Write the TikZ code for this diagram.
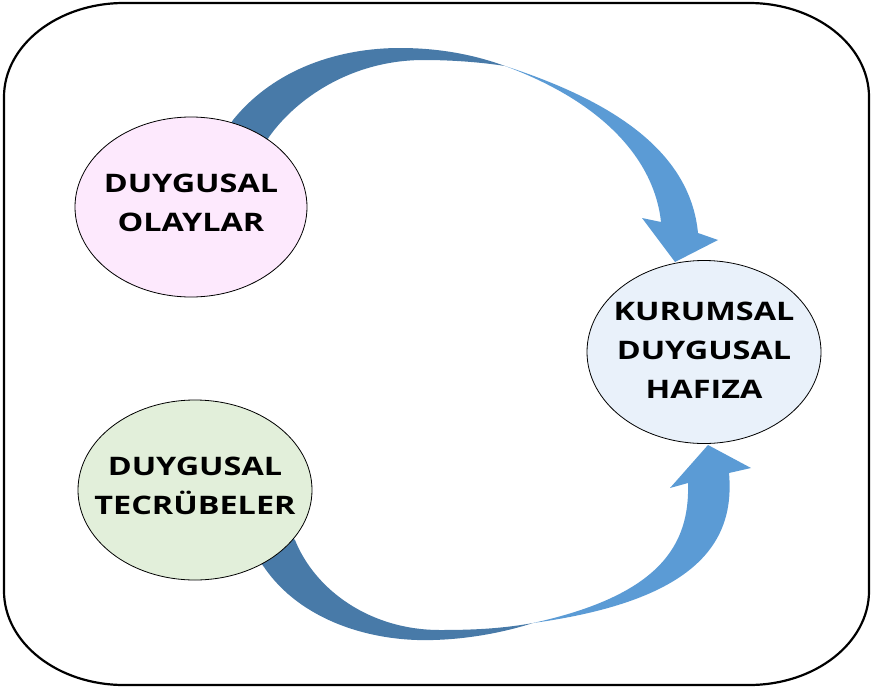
\documentclass[tikz,border=0pt]{standalone}
\usepackage{fontspec}
\newfontfamily\lblfont[FakeStretch=1.27]{Open Sans}
\usetikzlibrary{shapes.geometric}
\definecolor{arrowdark}{RGB}{72,122,168}
\definecolor{arrowlight}{RGB}{91,155,213}
\definecolor{pinkfill}{RGB}{253,233,253}
\definecolor{greenfill}{RGB}{226,239,218}
\definecolor{bluefill}{RGB}{233,241,250}
\begin{document}
\begin{tikzpicture}[x=1pt,y=-1pt,
  bubble/.style={ellipse, draw=black, line width=0.8pt, inner sep=0pt,
    minimum width=232pt, minimum height=180pt},
  lbl/.style={align=center, inner sep=0pt,
    font=\lblfont\bfseries\fontsize{25.5}{39}\selectfont},
  frame/.style={draw=black, line width=2.2pt},
  darkpart/.style={fill=arrowdark, draw=none},
  lightpart/.style={fill=arrowlight, draw=none}]
\useasboundingbox (0,0) rectangle (872,688);

% outer frame with elliptical corners
\draw[frame] (124,3) -- (749,3)
  .. controls (815.2,3) and (869,45.1) .. (869,97) -- (869,591)
  .. controls (869,642.9) and (815.2,685) .. (749,685) -- (124,685)
  .. controls (57.8,685) and (4,642.9) .. (4,591) -- (4,97)
  .. controls (4,45.1) and (57.8,3) .. (124,3) -- cycle;

% upper curved arrow: back face
\fill[darkpart] (228,128) -- (233,120)
  .. controls (275,68) and (340,48) .. (400,48)
  .. controls (440,48) and (475,55) .. (505,66)
  .. controls (480,62) and (450,60) .. (424,60)
  .. controls (350,60) and (295,100) .. (269,137) -- (262,148) -- cycle;
% upper curved arrow: front face and head
\fill[lightpart] (505,66)
  .. controls (610,100) and (690,150) .. (698,233)
  -- (718,240) -- (675,262) -- (642,218) -- (661,222)
  .. controls (655,165) and (610,105) .. (505,66) -- cycle;

% lower curved arrow: back face
\fill[darkpart] (255,555) -- (264,567)
  .. controls (300,620) and (370,642) .. (433,640)
  .. controls (470,639) and (505,632) .. (533,623)
  .. controls (500,629) and (470,630) .. (440,630)
  .. controls (370,630) and (315,590) .. (295,540) -- (285,530) -- cycle;
% lower curved arrow: front face and head
\fill[lightpart] (533,623)
  .. controls (700,600) and (735,540) .. (729,473)
  -- (751,468) -- (708,445) -- (670,488) -- (688,483)
  .. controls (690,545) and (660,595) .. (533,623) -- cycle;

% the three ellipses
\node[bubble, fill=pinkfill] (olay) at (191,207) {};
\node[bubble, fill=greenfill, minimum width=234pt] (tecrube) at (195,490) {};
\node[bubble, fill=bluefill, minimum width=234pt, minimum height=183pt] (hafiza) at (704,352) {};

% their labels
\node[lbl] (olaytext) at ([yshift=4pt]olay.center) {DUYGUSAL\\OLAYLAR};
\node[lbl] (tecrubetext) at ([yshift=4pt]tecrube.center) {DUYGUSAL\\TECRÜBELER};
\node[lbl] (hafizatext) at ([yshift=2pt]hafiza.center) {KURUMSAL\\DUYGUSAL\\HAFIZA};
\end{tikzpicture}
\end{document}
